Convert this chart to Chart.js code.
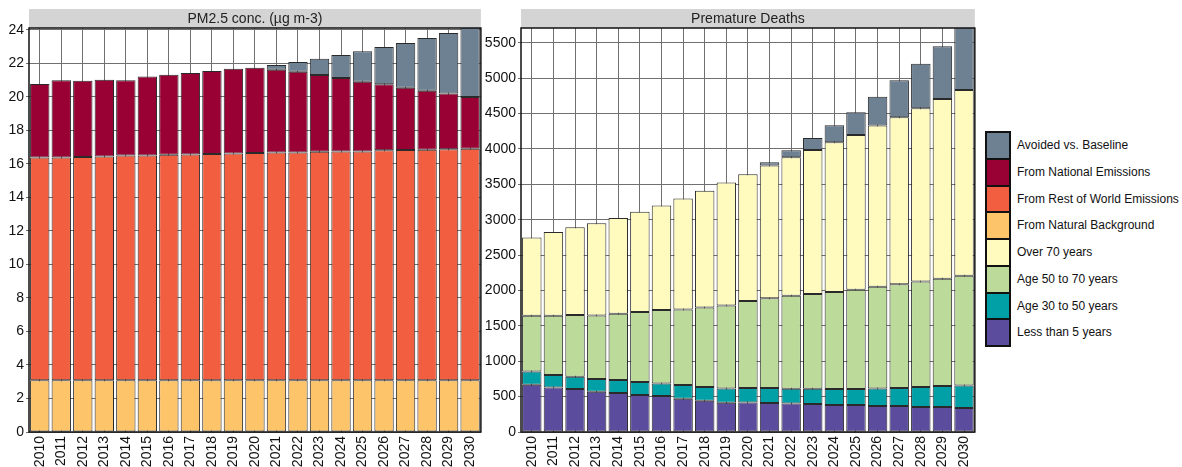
<!DOCTYPE html>
<html>
<head>
<meta charset="utf-8">
<script src="https://cdn.jsdelivr.net/npm/chart.js@4.4.1/dist/chart.umd.min.js"></script>
<style>
  html, body { margin: 0; padding: 0; background: #fff; }
  body { width: 1182px; height: 467px; position: relative; overflow: hidden; font-family: 'Liberation Sans', Arial, sans-serif; }
  .box { position: absolute; top: 0; height: 467px; }
  #pmBox { left: 0; width: 491px; }
  #deathBox { left: 482px; width: 503px; }
  #legend { position: absolute; left: 985px; top: 131px; }
  .item { position: relative; height: 26.75px; }
  .sw { position: absolute; left: 0; top: 0; width: 26px; height: 28.75px; box-sizing: border-box; border: 2px solid #111; }
  .lbl { position: absolute; left: 32px; top: 1px; line-height: 26.75px; font-size: 12px; color: #111; white-space: nowrap; }
</style>
</head>
<body>
<div class="box" id="pmBox"><canvas id="pmChart"></canvas></div>
<div class="box" id="deathBox"><canvas id="deathChart"></canvas></div>
<div id="legend"></div>

<script>
// ---- data ----
const YEARS = ['2010','2011','2012','2013','2014','2015','2016','2017','2018','2019','2020',
               '2021','2022','2023','2024','2025','2026','2027','2028','2029','2030'];

// PM2.5 concentration components (ug m-3)
const PM_NATURAL    = [3.08,3.08,3.08,3.08,3.08,3.08,3.08,3.08,3.08,3.08,3.08,
                       3.08,3.08,3.08,3.08,3.08,3.08,3.08,3.08,3.08,3.08];
const PM_REST_WORLD = [13.30,13.30,13.32,13.36,13.42,13.42,13.46,13.48,13.50,13.54,13.56,
                       13.60,13.60,13.64,13.66,13.66,13.72,13.74,13.76,13.78,13.82];
const PM_NATIONAL   = [4.38,4.60,4.56,4.57,4.49,4.71,4.77,4.85,4.95,5.05,5.09,
                       4.93,4.81,4.57,4.37,4.16,3.94,3.72,3.52,3.34,3.08];
const PM_AVOIDED    = [0,0,0,0,0,0,0,0,0,0,0,
                       0.28,0.58,0.98,1.38,1.81,2.23,2.66,3.14,3.60,4.20];
const PM_TICKS      = [0,2,4,6,8,10,12,14,16,18,20,22,24];

// Premature deaths by age group
const D_UNDER5   = [668,630,607,569,551,523,508,470,442,414,418,
                    410,404,395,381,381,367,367,353,353,339];
const D_30_50    = [188,175,174,180,183,183,178,194,194,202,203,
                    211,208,217,226,226,249,254,283,297,319];
const D_50_70    = [787,838,871,898,937,989,1037,1068,1124,1172,1229,
                    1271,1313,1337,1370,1403,1436,1469,1491,1515,1550];
const D_OVER70   = [1106,1182,1243,1305,1352,1417,1478,1567,1648,1737,1794,
                    1874,1959,2038,2119,2189,2279,2359,2449,2543,2627];
const D_AVOIDED  = [0,0,0,0,0,0,0,0,0,0,0,
                    47,99,170,240,321,409,523,630,744,900];
const D_TICKS    = [0,500,1000,1500,2000,2500,3000,3500,4000,4500,5000,5500];

const COLORS = {
  avoided:  '#6e8192',
  national: '#990033',
  restWorld:'#f15f40',
  natural:  '#fec46a',
  over70:   '#fffbbe',
  age5070:  '#bcda9a',
  age3050:  '#00a0a6',
  under5:   '#5b4c9e',
  grid:     '#707070',
  text:     '#111',
  band:     '#d4d4d4',
};

const LEGEND_LABELS = ['Avoided vs. Baseline','From National Emissions','From Rest of World Emissions',
  'From Natural Background','Over 70 years','Age 50 to 70 years','Age 30 to 50 years','Less than 5 years'];
const LEGEND_COLORS = [COLORS.avoided, COLORS.national, COLORS.restWorld, COLORS.natural,
  COLORS.over70, COLORS.age5070, COLORS.age3050, COLORS.under5];

Chart.defaults.font.family = "'Liberation Sans', Arial, sans-serif";
Chart.defaults.color = COLORS.text;

// gray title band + black frame round the plot area
const framePlugin = {
  id: 'frame',
  afterDraw(chart, args, opts) {
    const { ctx, chartArea: a } = chart;
    ctx.save();
    ctx.fillStyle = COLORS.band;
    ctx.fillRect(a.left, a.top - 19, a.right - a.left, 19);
    ctx.fillStyle = '#222';
    ctx.font = "14px 'Liberation Sans', Arial, sans-serif";
    ctx.textAlign = 'center';
    ctx.textBaseline = 'middle';
    ctx.fillText(opts.title, (a.left + a.right) / 2, a.top - 9);
    ctx.strokeStyle = '#111';
    ctx.lineWidth = 1.5;
    ctx.strokeRect(a.left, a.top, a.right - a.left, a.bottom - a.top);
    ctx.restore();
  }
};

function barSet(label, data, color) {
  return {
    label,
    data,
    backgroundColor: color,
    borderColor: '#2a2a2a',
    borderWidth: 1,
    borderSkipped: false,
    barPercentage: 0.9,
    categoryPercentage: 1.0,
    clip: 0,
  };
}

function stackChart(id, title, datasets, yMax, yTicks, yWidth, padRight) {
  return new Chart(document.getElementById(id), {
    type: 'bar',
    data: { labels: YEARS, datasets },
    options: {
      responsive: true,
      maintainAspectRatio: false,
      animation: false,
      layout: { padding: { top: 28, right: padRight, bottom: 0, left: 0 } },
      plugins: { legend: { display: false }, tooltip: { enabled: false }, frame: { title } },
      scales: {
        x: {
          stacked: true,
          offset: true,
          grid: { offset: false, color: COLORS.grid, drawTicks: false },
          border: { display: false },
          ticks: { minRotation: 90, maxRotation: 90, autoSkip: false, padding: 4, font: { size: 14 } },
          afterFit(scale) { scale.height = 35; },
        },
        y: {
          stacked: true,
          min: 0,
          max: yMax,
          grid: { color: COLORS.grid, tickLength: 3 },
          border: { display: false },
          ticks: { padding: 2, font: { size: 14 }, callback: v => String(v) },
          afterBuildTicks(scale) { scale.ticks = yTicks.map(v => ({ value: v })); },
          afterFit(scale) { scale.width = yWidth; },
        }
      }
    },
    plugins: [framePlugin]
  });
}

stackChart('pmChart', 'PM2.5 conc. (\u00b5g m-3)', [
  barSet('From Natural Background', PM_NATURAL, COLORS.natural),
  barSet('From Rest of World Emissions', PM_REST_WORLD, COLORS.restWorld),
  barSet('From National Emissions', PM_NATIONAL, COLORS.national),
  barSet('Avoided vs. Baseline', PM_AVOIDED, COLORS.avoided),
], 24.1, PM_TICKS, 29, 3);

stackChart('deathChart', 'Premature Deaths', [
  barSet('Less than 5 years', D_UNDER5, COLORS.under5),
  barSet('Age 30 to 50 years', D_30_50, COLORS.age3050),
  barSet('Age 50 to 70 years', D_50_70, COLORS.age5070),
  barSet('Over 70 years', D_OVER70, COLORS.over70),
  barSet('Avoided vs. Baseline', D_AVOIDED, COLORS.avoided),
], 5710, D_TICKS, 39, 7);

// shared legend
const legend = document.getElementById('legend');
LEGEND_LABELS.forEach((txt, i) => {
  const row = document.createElement('div');
  row.className = 'item';
  row.innerHTML = `<div class="sw" style="background:${LEGEND_COLORS[i]}"></div><div class="lbl">${txt}</div>`;
  legend.appendChild(row);
});
</script>
</body>
</html>
